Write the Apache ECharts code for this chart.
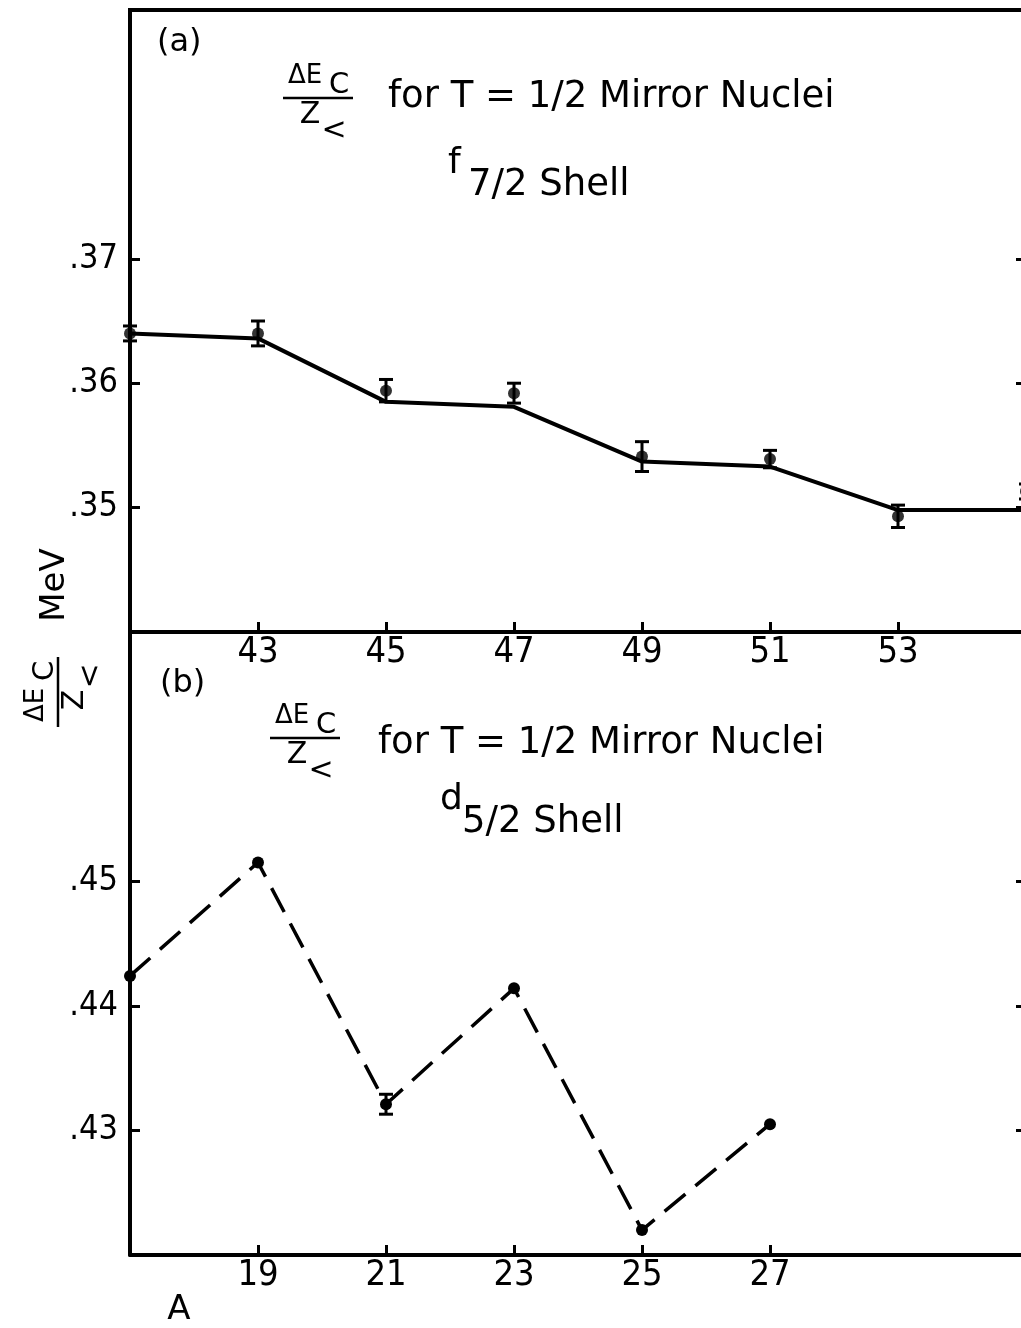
<!DOCTYPE html>
<html>
<head>
<meta charset="utf-8">
<script src="https://cdn.jsdelivr.net/npm/echarts@6/dist/echarts.min.js"></script>
<style>
  html, body { margin: 0; padding: 0; background: #fff; }
  #main { width: 1021px; height: 1328px; }
</style>
</head>
<body>
<div id="main"></div>
<script>
// (a) f7/2 shell: measured points with error bars, and the solid curve
var topA = [41, 43, 45, 47, 49, 51, 53, 55];
var topVal = [0.3640, 0.3640, 0.3594, 0.3592, 0.3541, 0.3539, 0.3493, 0.3513];
var topErr = [0.0006, 0.0010, 0.0009, 0.0008, 0.0012, 0.0007, 0.0009, 0.0006];
var topFit = [0.3640, 0.3636, 0.3585, 0.3581, 0.3537, 0.3533, 0.3498, 0.3498];

// (b) d5/2 shell
var botA = [17, 19, 21, 23, 25, 27];
var botVal = [0.4424, 0.4515, 0.4321, 0.4414, 0.4220, 0.4305];
var botErr = [0, 0, 0.0008, 0, 0, 0];

// tick labels
var topXTicks = [43, 45, 47, 49, 51, 53];
var botXTicks = [19, 21, 23, 25, 27];
var topYTicks = [0.35, 0.36, 0.37];
var botYTicks = [0.43, 0.44, 0.45];

var FONT = 'DejaVu Sans';
var LFONT = '"DejaVu Sans Condensed", "Liberation Sans Narrow", "DejaVu Sans", sans-serif';

var myChart = echarts.init(document.getElementById('main'));

function pairs(xs, ys) {
	return xs.map(function(x, i) { return [x, ys[i]]; });
}
function yFmt(v) {
	return v.toFixed(2).replace(/^0/, '');
}
function txt(x, y, s, size, align) {
	return {
		type: 'text', x: x, y: y, z: 10,
		style: { text: s, fontSize: size, fontFamily: FONT, fill: '#000',
			align: align || 'left', verticalAlign: 'middle' }
	};
}
function seg(x1, y1, x2, y2, w) {
	return { type: 'line', z: 10, shape: { x1: x1, y1: y1, x2: x2, y2: y2 },
		style: { stroke: '#000', lineWidth: w } };
}
// ΔE_C over Z_<
function frac(cx, cy, rot) {
	return {
		type: 'group', x: cx, y: cy, rotation: rot || 0,
		children: [
			seg(-35, 0, 35, 0, 2.5),
			txt(-13, -22, 'ΔE', 26, 'center'),
			txt(21, -13, 'C', 29, 'center'),
			txt(-8, 17, 'Z', 30, 'center'),
			txt(16, 33, '<', 30, 'center')
		]
	};
}

function xAxisOf(grid, min, max, ticks) {
	return {
		type: 'value', gridIndex: grid, min: min, max: max,
		axisLine: { show: true, lineStyle: { color: '#000', width: 4 } },
		axisTick: { show: true, inside: true, length: 10, customValues: ticks,
			lineStyle: { color: '#000', width: 3 } },
		axisLabel: { show: true, customValues: ticks, margin: 3, color: '#000',
			fontSize: 36, fontFamily: LFONT },
		splitLine: { show: false }
	};
}
function yAxisOf(grid, min, max, ticks, pos) {
	return {
		type: 'value', gridIndex: grid, min: min, max: max, position: pos,
		axisLine: { show: true, onZero: false, lineStyle: { color: '#000', width: 4 } },
		axisTick: { show: true, inside: true, length: 10, customValues: ticks,
			lineStyle: { color: '#000', width: 3 } },
		axisLabel: { show: pos === 'left', customValues: ticks, margin: 12, color: '#000',
			fontSize: 34, fontFamily: LFONT, formatter: yFmt },
		splitLine: { show: false }
	};
}

function errBars(api) {
	var x = api.value(0), y = api.value(1), e = api.value(2);
	if (!e) return null;
	var p1 = api.coord([x, y + e]);
	var p2 = api.coord([x, y - e]);
	var st = { stroke: '#000', lineWidth: 3 };
	return {
		type: 'group',
		children: [
			{ type: 'line', shape: { x1: p1[0], y1: p1[1], x2: p2[0], y2: p2[1] }, style: st },
			{ type: 'line', shape: { x1: p1[0] - 7, y1: p1[1], x2: p1[0] + 7, y2: p1[1] }, style: st },
			{ type: 'line', shape: { x1: p2[0] - 7, y1: p2[1], x2: p2[0] + 7, y2: p2[1] }, style: st }
		]
	};
}

var option = {
	backgroundColor: '#fff',
	animation: false,
	grid: [
		{ left: 130, top: 10, width: 896, height: 622, show: true, borderColor: '#000',
			borderWidth: 4, containLabel: false, outerBoundsMode: 'none' },
		{ left: 130, top: 632, width: 896, height: 623, show: false,
			containLabel: false, outerBoundsMode: 'none' }
	],
	xAxis: [
		xAxisOf(0, 41, 55, topXTicks),
		xAxisOf(1, 17, 31, botXTicks)
	],
	yAxis: [
		yAxisOf(0, 0.34, 0.39, topYTicks, 'left'),
		yAxisOf(1, 0.42, 0.47, botYTicks, 'left'),
		yAxisOf(0, 0.34, 0.39, topYTicks, 'right'),
		yAxisOf(1, 0.42, 0.47, botYTicks, 'right')
	],
	series: [
		{
			name: 'fit f7/2', type: 'line', xAxisIndex: 0, yAxisIndex: 0,
			data: pairs(topA, topFit), symbol: 'none',
			lineStyle: { color: '#000', width: 4 }
		},
		{
			name: 'f7/2', type: 'scatter', xAxisIndex: 0, yAxisIndex: 0,
			data: pairs(topA, topVal), symbol: 'circle', symbolSize: 12,
			itemStyle: { color: '#000' }
		},
		{
			name: 'f7/2 err', type: 'custom', xAxisIndex: 0, yAxisIndex: 0,
			data: topA.map(function(a, i) { return [a, topVal[i], topErr[i]]; }),
			renderItem: function(params, api) { return errBars(api); }
		},
		{
			name: 'd5/2', type: 'line', xAxisIndex: 1, yAxisIndex: 1,
			data: pairs(botA, botVal), symbol: 'circle', symbolSize: 12, showSymbol: true,
			itemStyle: { color: '#000' },
			lineStyle: { color: '#000', width: 3.5, type: [27, 13] }
		},
		{
			name: 'd5/2 err', type: 'custom', xAxisIndex: 1, yAxisIndex: 1,
			data: botA.map(function(a, i) { return [a, botVal[i], botErr[i]]; }),
			renderItem: function(params, api) { return errBars(api); }
		}
	],
	graphic: [
		txt(157, 43, '(a)', 32),
		frac(318, 98),
		txt(388, 97, 'for T = 1/2 Mirror Nuclei', 37),
		txt(448, 164, 'f', 36),
		txt(468, 185, '7/2 Shell', 37),

		txt(160, 684, '(b)', 32),
		frac(305, 738),
		txt(378, 743, 'for T = 1/2 Mirror Nuclei', 37),
		txt(440, 800, 'd', 36),
		txt(462, 822, '5/2 Shell', 37),

		frac(58, 692, Math.PI / 2),
		{ type: 'text', x: 55, y: 585, rotation: Math.PI / 2, z: 10,
			style: { text: 'MeV', fontSize: 34, fontFamily: FONT, fill: '#000',
				align: 'center', verticalAlign: 'middle' } },
		txt(179, 1310, 'A', 34, 'center')
	]
};

myChart.setOption(option);
</script>
</body>
</html>
